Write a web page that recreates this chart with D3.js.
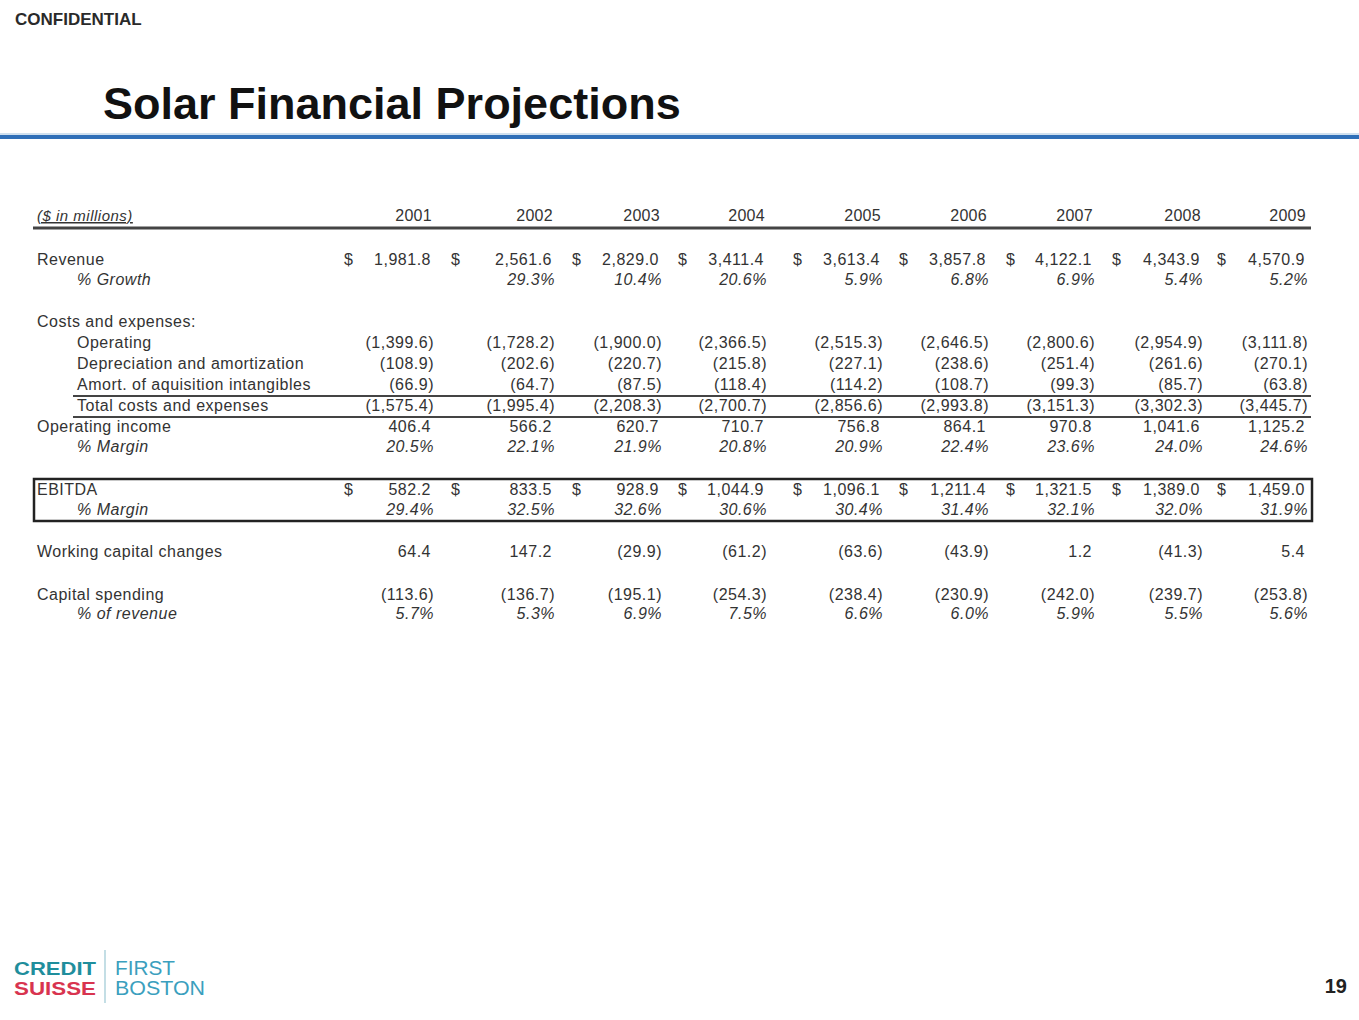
<!DOCTYPE html>
<html>
<head>
<meta charset="utf-8">
<script src="https://cdn.jsdelivr.net/npm/d3@7"></script>
<style>
  html, body { margin: 0; padding: 0; background: #fff; }
  svg { display: block; font-family: "Liberation Sans", Arial, sans-serif; }
</style>
</head>
<body>
<svg id="chart" width="1359" height="1020"></svg>
<script>
// ---------- DATA ----------
const years = ["2001","2002","2003","2004","2005","2006","2007","2008","2009"];
const revenue       = [1981.8, 2561.6, 2829.0, 3411.4, 3613.4, 3857.8, 4122.1, 4343.9, 4570.9];
const revenueGrowth = [null, 29.3, 10.4, 20.6, 5.9, 6.8, 6.9, 5.4, 5.2];
const operating     = [-1399.6, -1728.2, -1900.0, -2366.5, -2515.3, -2646.5, -2800.6, -2954.9, -3111.8];
const deprAmort     = [-108.9, -202.6, -220.7, -215.8, -227.1, -238.6, -251.4, -261.6, -270.1];
const amortIntang   = [-66.9, -64.7, -87.5, -118.4, -114.2, -108.7, -99.3, -85.7, -63.8];
const totalCosts    = [-1575.4, -1995.4, -2208.3, -2700.7, -2856.6, -2993.8, -3151.3, -3302.3, -3445.7];
const opIncome      = [406.4, 566.2, 620.7, 710.7, 756.8, 864.1, 970.8, 1041.6, 1125.2];
const opMargin      = [20.5, 22.1, 21.9, 20.8, 20.9, 22.4, 23.6, 24.0, 24.6];
const ebitda        = [582.2, 833.5, 928.9, 1044.9, 1096.1, 1211.4, 1321.5, 1389.0, 1459.0];
const ebitdaMargin  = [29.4, 32.5, 32.6, 30.6, 30.4, 31.4, 32.1, 32.0, 31.9];
const workingCap    = [64.4, 147.2, -29.9, -61.2, -63.6, -43.9, 1.2, -41.3, 5.4];
const capex         = [-113.6, -136.7, -195.1, -254.3, -238.4, -230.9, -242.0, -239.7, -253.8];
const capexPct      = [5.7, 5.3, 6.9, 7.5, 6.6, 6.0, 5.9, 5.5, 5.6];

// ---------- LAYOUT ----------
const svg = d3.select("#chart");
const W = 1359, H = 1020;
const textColor = "#333";

// right edge of each year column, and left x of its $ sign
const colX = d3.scaleOrdinal().domain(years).range([434, 555, 662, 767, 883, 989, 1095, 1203, 1308]);
const dolX = d3.scaleOrdinal().domain(years).range([344, 451, 572, 678, 793, 899, 1006, 1112, 1217]);

const fmtNum = d3.format(",.1f");
const fmtVal = v => v == null ? "" : (v < 0 ? "(" + fmtNum(-v) + ")" : fmtNum(v));
const fmtPct = v => v == null ? "" : d3.format(".1f")(v) + "%";

// header
svg.append("text").attr("x", 15).attr("y", 25).attr("font-size", 17).attr("font-weight", "bold")
  .attr("fill", "#2a2a2a").text("CONFIDENTIAL");
svg.append("text").attr("x", 103).attr("y", 119).attr("font-size", 45).attr("font-weight", "bold")
  .attr("fill", "#111").text("Solar Financial Projections");
svg.append("rect").attr("x", 0).attr("y", 135).attr("width", W).attr("height", 4).attr("fill", "#2f6fb8");
svg.append("rect").attr("x", 0).attr("y", 133).attr("width", W).attr("height", 2).attr("fill", "#cfe0ef");

// table header
svg.append("text").attr("x", 37).attr("y", 221).attr("font-size", 15).attr("font-style", "italic")
  .attr("letter-spacing", 0.5)
  .attr("text-decoration", "underline").attr("fill", textColor).text("($ in millions)");
svg.append("g").selectAll("text").data(years).join("text")
  .attr("x", d => colX(d) - 2).attr("y", 221).attr("text-anchor", "end")
  .attr("font-size", 16).attr("letter-spacing", 0.3).attr("fill", textColor).text(d => d);
svg.append("line").attr("x1", 33).attr("x2", 1311).attr("y1", 228).attr("y2", 228)
  .attr("stroke", "#444").attr("stroke-width", 3);

// rows
const rows = [
  {label: "Revenue", x: 37, y: 265, values: revenue, dollar: true},
  {label: "% Growth", x: 77, y: 285, values: revenueGrowth, pct: true},
  {label: "Costs and expenses:", x: 37, y: 327, values: null},
  {label: "Operating", x: 77, y: 348, values: operating},
  {label: "Depreciation and amortization", x: 77, y: 369, values: deprAmort},
  {label: "Amort. of aquisition intangibles", x: 77, y: 390, values: amortIntang},
  {label: "Total costs and expenses", x: 77, y: 411, values: totalCosts},
  {label: "Operating income", x: 37, y: 432, values: opIncome},
  {label: "% Margin", x: 77, y: 452, values: opMargin, pct: true},
  {label: "EBITDA", x: 37, y: 495, values: ebitda, dollar: true},
  {label: "% Margin", x: 77, y: 515, values: ebitdaMargin, pct: true},
  {label: "Working capital changes", x: 37, y: 557, values: workingCap},
  {label: "Capital spending", x: 37, y: 600, values: capex},
  {label: "% of revenue", x: 77, y: 619, values: capexPct, pct: true}
];

const g = svg.append("g").attr("font-size", 16).attr("letter-spacing", 0.5).attr("fill", textColor);
rows.forEach(r => {
  g.append("text").attr("x", r.x).attr("y", r.y)
    .attr("font-style", r.pct ? "italic" : null).text(r.label);
  if (!r.values) return;
  const cells = years.map((y, i) => ({year: y, v: r.values[i]}));
  g.append("g").selectAll("text").data(cells).join("text")
    .attr("x", d => colX(d.year) - (r.pct || d.v < 0 ? 0 : 3))
    .attr("y", r.y).attr("text-anchor", "end")
    .attr("font-style", r.pct ? "italic" : null)
    .text(d => r.pct ? fmtPct(d.v) : fmtVal(d.v));
  if (r.dollar) {
    g.append("g").selectAll("text").data(cells).join("text")
      .attr("x", d => dolX(d.year)).attr("y", r.y).text("$");
  }
});

// rules around totals
[396, 417].forEach(y => {
  svg.append("line").attr("x1", 73).attr("x2", 1311).attr("y1", y).attr("y2", y)
    .attr("stroke", "#444").attr("stroke-width", 2);
});
// EBITDA box
svg.append("rect").attr("x", 34).attr("y", 479).attr("width", 1278).attr("height", 42)
  .attr("fill", "none").attr("stroke", "#222").attr("stroke-width", 2.5);

// logo
svg.append("text").attr("x", 14).attr("y", 975).attr("font-size", 19).attr("font-weight", "bold")
  .attr("fill", "#1f8e9c").attr("textLength", 82).attr("lengthAdjust", "spacingAndGlyphs").text("CREDIT");
svg.append("text").attr("x", 14).attr("y", 995).attr("font-size", 19).attr("font-weight", "bold")
  .attr("fill", "#d8344f").attr("textLength", 82).attr("lengthAdjust", "spacingAndGlyphs").text("SUISSE");
svg.append("line").attr("x1", 105).attr("x2", 105).attr("y1", 950).attr("y2", 1003)
  .attr("stroke", "#9cc8d4").attr("stroke-width", 1.2);
svg.append("text").attr("x", 115).attr("y", 975).attr("font-size", 20)
  .attr("fill", "#3b9fbe").attr("textLength", 60).attr("lengthAdjust", "spacingAndGlyphs").text("FIRST");
svg.append("text").attr("x", 115).attr("y", 995).attr("font-size", 20)
  .attr("fill", "#3b9fbe").attr("textLength", 90).attr("lengthAdjust", "spacingAndGlyphs").text("BOSTON");

// page number
svg.append("text").attr("x", 1347).attr("y", 993).attr("text-anchor", "end").attr("font-size", 20)
  .attr("font-weight", "bold").attr("fill", "#222").text("19");
</script>
</body>
</html>
